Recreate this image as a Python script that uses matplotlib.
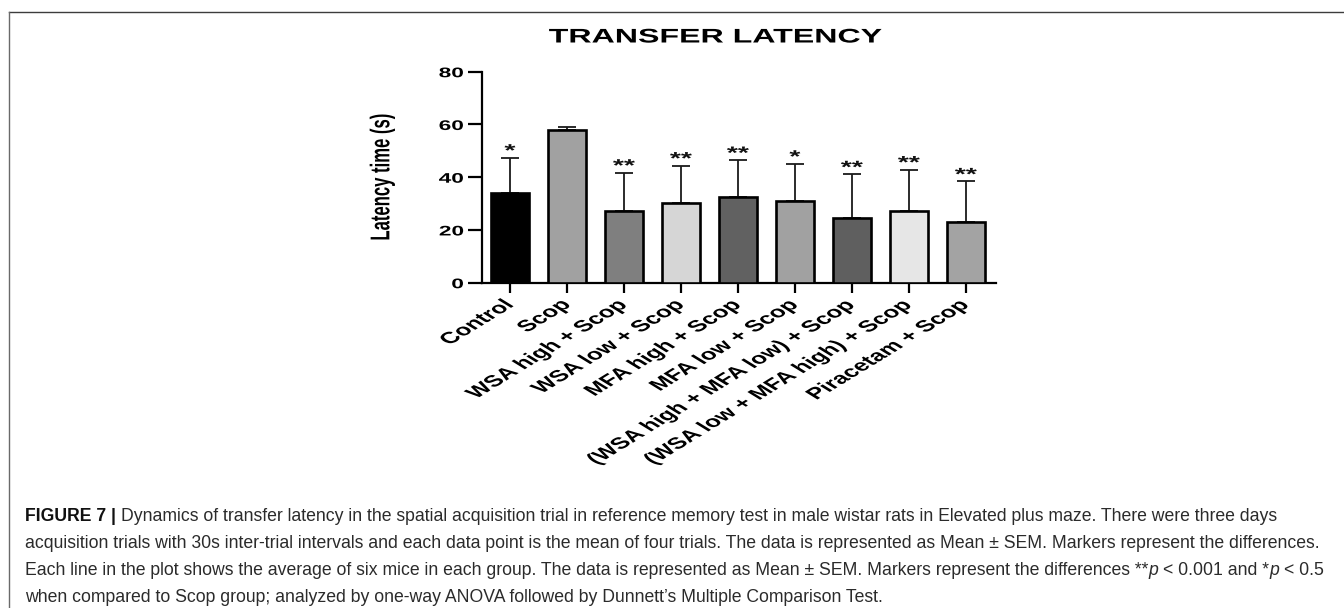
import numpy as np
import matplotlib
matplotlib.use('Agg')
import matplotlib.pyplot as plt
from matplotlib.patheffects import AbstractPathEffect
from matplotlib.transforms import Affine2D
from matplotlib.lines import Line2D

plt.rcParams['font.family'] = ['Liberation Sans', 'DejaVu Sans']

W, H = 1344, 608

groups = ['Control', 'Scop', 'WSA high + Scop', 'WSA low + Scop', 'MFA high + Scop',
          'MFA low + Scop', '(WSA high + MFA low) + Scop', '(WSA low + MFA high) + Scop',
          'Piracetam + Scop']
means = [34.1, 57.8, 27.3, 30.1, 32.6, 31.0, 24.5, 27.1, 23.0]
sems = [13.3, 1.3, 14.4, 14.3, 13.9, 14.1, 16.6, 15.8, 15.4]
stars = ['*', '', '**', '**', '**', '*', '**', '**', '**']
colors = ['#000000', '#a1a1a1', '#7f7f7f', '#d6d6d6', '#616161',
          '#a1a1a1', '#5f5f5f', '#e6e6e6', '#a3a3a3']
yticks = [0, 20, 40, 60, 80]

# the source picture is stretched sideways, so the chart text gets the same stretch
SX = 1.63


class Stretch(AbstractPathEffect):
    """Stretch text horizontally around its anchor point."""

    def __init__(self, text, sx=SX):
        super().__init__()
        self.text = text
        self.sx = sx

    def draw_path(self, renderer, gc, tpath, affine, rgbFace=None):
        x0 = self.text.get_transform().transform(self.text.get_unitless_position())[0]
        t = affine + Affine2D().translate(-x0, 0).scale(self.sx, 1).translate(x0, 0)
        renderer.draw_path(gc, tpath, t, rgbFace)


fig = plt.figure(figsize=(W / 100, H / 100), dpi=100)

# frame lines of the figure panel
fig.add_artist(Line2D([9 / W, 1], [1 - 12 / H, 1 - 12 / H], color='#3c3c3c', lw=1.0))
fig.add_artist(Line2D([9 / W, 9 / W], [0, 1 - 12 / H], color='#6a6a6a', lw=1.0))

ax = fig.add_axes([482 / W, 1 - 282.7 / H, (996 - 482) / W, (282.7 - 71.7) / H])
x = np.arange(len(groups))
means = np.array(means)
sems = np.array(sems)

ax.bar(x, means, width=0.66, color=colors, edgecolor='black', linewidth=1.9, zorder=3)
ax.errorbar(x, means, yerr=[np.zeros(len(x)), sems], fmt='none', ecolor='#1a1a1a',
            elinewidth=1.3, capsize=6.5, capthick=1.3, zorder=2)

for i, s in enumerate(stars):
    if s:
        t = ax.text(x[i], means[i] + sems[i] + 0.6, s, ha='center', va='baseline',
                    fontsize=12.5, fontweight='bold', color='#111111')
        t.set_path_effects([Stretch(t)])

ax.set_xlim(-0.49, 8.53)
ax.set_ylim(0, 80)
ax.set_yticks(yticks)
ax.set_xticks(x)
ax.set_xticklabels(groups, rotation=45, ha='right', va='center', rotation_mode='anchor',
                   fontsize=11.5, fontweight='bold')
for lbl in ax.get_yticklabels():
    lbl.set_fontsize(10)
    lbl.set_fontweight('bold')
for s in ['top', 'right']:
    ax.spines[s].set_visible(False)
for s in ['left', 'bottom']:
    ax.spines[s].set_linewidth(1.6)
ax.tick_params(axis='y', length=10, width=1.6, pad=3)
ax.tick_params(axis='x', length=7, width=1.6, pad=7)

ylab = ax.set_ylabel('Latency time (s)', fontsize=12, fontweight='bold', va='center')
ax.yaxis.set_label_coords((382 - 482) / (996 - 482), 0.5)
ylab.set_path_effects([Stretch(ylab)])

title = fig.text(716 / W, 1 - 37 / H, 'TRANSFER LATENCY', ha='center', va='center',
                 fontsize=14.2, fontweight='bold')
title.set_path_effects([Stretch(title)])

fig.canvas.draw()
for lbl in ax.get_xticklabels() + ax.get_yticklabels():
    lbl.set_path_effects([Stretch(lbl)])

# caption, drawn piece by piece so bold and italic parts sit inline
r = fig.canvas.get_renderer()
cap_size = 12.7
cap_color = '#2b2b2b'
cap_x = 25


def width_of(s, **kw):
    t = fig.text(0, 0, s, fontsize=cap_size, **kw)
    w = t.get_window_extent(r).width
    t.remove()
    return w


space = width_of('a a') - width_of('aa')


def caption_line(y, pieces):
    xpos = cap_x
    for s, style in pieces:
        if s.startswith(' '):
            xpos += space
            s = s[1:]
        kw = {}
        if style == 'b':
            kw['fontweight'] = 'bold'
            kw['color'] = '#111111'
        elif style == 'i':
            kw['fontstyle'] = 'italic'
        t = fig.text(xpos / W, 1 - y / H, s, fontsize=cap_size,
                     ha='left', va='baseline', **({'color': cap_color} | kw))
        xpos += t.get_window_extent(r).width


caption_line(521, [('FIGURE 7 |', 'b'),
                   (' Dynamics of transfer latency in the spatial acquisition trial in reference '
                    'memory test in male wistar rats in Elevated plus maze. There were three days',
                    'n')])
caption_line(548, [('acquisition trials with 30s inter-trial intervals and each data point is the '
                    'mean of four trials. The data is represented as Mean \u00b1 SEM. Markers '
                    'represent the differences.', 'n')])
caption_line(575, [('Each line in the plot shows the average of six mice in each group. The data is '
                    'represented as Mean \u00b1 SEM. Markers represent the differences **', 'n'),
                   ('p', 'i'), (' < 0.001 and *', 'n'), ('p', 'i'), (' < 0.5', 'n')])
caption_line(602, [('when compared to Scop group; analyzed by one-way ANOVA followed by '
                    'Dunnett\u2019s Multiple Comparison Test.', 'n')])

fig.savefig('out.png', dpi=100)
